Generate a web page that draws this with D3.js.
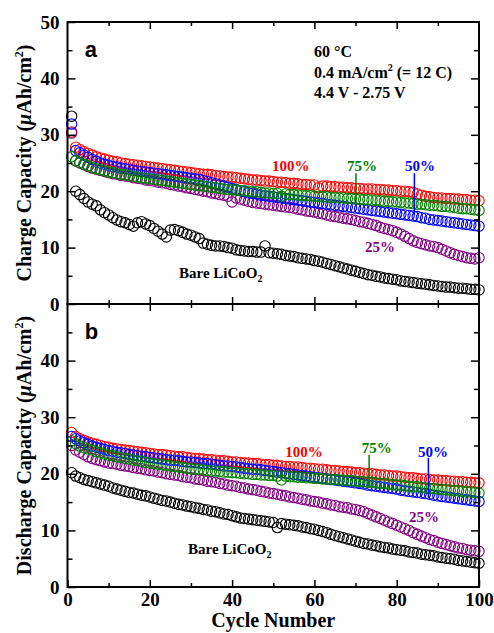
<!DOCTYPE html>
<html>
<head>
<meta charset="utf-8">
<script src="https://cdn.jsdelivr.net/npm/d3@7"></script>
<style>
body { margin: 0; background: #fff; }
text { font-family: "Liberation Serif", "Times New Roman", serif; font-weight: bold; }
</style>
</head>
<body>
<svg id="chart" width="494" height="633"></svg>
<script>
// cycle numbers 1..100
var cycles = d3.range(1, 101);

// panel a: charge capacity (uAh/cm2)
var chargeBare = [33.3,20.0,19.4,18.7,18.1,17.7,17.4,16.7,16.2,15.8,
  15.3,14.9,14.6,14.4,14.1,13.8,14.4,14.6,14.2,13.9,
  13.4,12.9,12.4,11.9,13.1,13.2,13.0,12.7,12.4,12.2,
  11.9,11.6,10.8,10.6,10.4,10.3,10.3,10.2,10.0,9.9,
  9.6,9.5,9.4,9.3,9.3,9.2,9.2,10.3,9.1,9.0,
  8.9,8.8,8.6,8.5,8.4,8.2,8.1,8.0,7.9,7.7,
  7.6,7.4,7.2,7.0,6.8,6.6,6.4,6.2,6.0,5.8,
  5.6,5.4,5.2,5.1,4.9,4.8,4.6,4.5,4.4,4.3,
  4.1,4.0,3.9,3.8,3.7,3.6,3.5,3.4,3.3,3.2,
  3.1,3.0,3.0,2.9,2.8,2.8,2.7,2.6,2.6,2.5];
var charge25 = [30.3,25.4,25.0,24.7,24.4,24.1,23.9,23.7,23.5,23.3,
  23.1,23.0,22.8,22.7,22.6,22.4,22.3,22.2,22.0,21.9,
  21.8,21.6,21.5,21.4,21.2,21.1,20.9,20.8,20.6,20.5,
  20.3,20.2,20.0,19.9,19.7,19.6,19.4,19.3,19.1,18.1,
  18.8,18.6,18.4,18.2,18.0,17.9,17.8,17.7,17.6,17.5,
  17.4,17.3,17.2,17.1,17.0,16.8,16.7,16.5,16.4,16.3,
  16.1,16.0,15.8,15.6,15.5,15.4,15.2,15.1,15.0,14.8,
  14.6,14.5,14.3,14.1,13.9,13.6,13.4,13.2,13.0,12.7,
  12.4,12.0,11.6,11.2,10.9,10.7,10.5,10.3,10.2,10.0,
  9.7,9.4,9.1,8.8,8.6,8.4,8.2,8.1,8.0,8.2];
var charge50 = [31.9,27.2,26.8,26.4,26.0,25.6,25.3,25.0,24.8,24.6,
  24.4,24.3,24.1,24.0,23.9,23.7,23.6,23.5,23.4,23.3,
  23.2,23.1,23.0,22.9,22.8,22.7,22.6,22.5,22.4,22.3,
  22.2,22.1,21.9,21.7,21.5,21.3,21.1,20.9,20.7,20.5,
  20.3,20.1,19.9,19.7,19.6,19.5,19.3,19.2,19.1,19.0,
  18.9,18.8,18.7,18.6,18.5,18.4,18.3,18.2,18.1,18.0,
  17.9,17.8,17.7,17.6,17.5,17.4,17.3,17.2,17.1,17.0,
  16.9,16.8,16.7,16.6,16.5,16.4,16.3,16.2,16.1,16.0,
  15.9,15.8,15.7,15.6,15.5,15.3,15.2,15.0,14.9,14.8,
  14.7,14.6,14.5,14.4,14.3,14.2,14.1,14.0,13.9,13.8];
var charge75 = [26.1,25.4,25.1,24.8,24.5,24.2,24.0,23.8,23.6,23.4,
  23.3,23.1,23.0,22.9,22.8,22.6,22.5,22.4,22.3,22.2,
  22.1,22.0,21.9,21.8,21.7,21.6,21.5,21.4,21.3,21.2,
  21.1,21.0,20.9,20.8,20.7,20.6,20.5,20.4,20.3,20.3,
  20.2,20.1,20.1,20.0,19.9,19.9,19.8,19.7,19.7,19.6,
  19.6,19.1,19.5,19.4,19.4,19.3,19.3,19.2,19.2,19.1,
  19.1,19.0,19.0,18.9,18.9,18.8,18.8,18.7,18.7,18.6,
  18.6,18.5,18.5,18.4,18.4,18.3,18.2,18.2,18.1,18.1,
  18.0,17.9,17.9,17.8,17.7,17.7,17.6,17.5,17.5,17.4,
  17.3,17.3,17.2,17.1,17.0,16.9,16.9,16.8,16.7,16.6];
var charge100 = [30.5,27.8,27.4,27.0,26.7,26.4,26.1,25.9,25.7,25.5,
  25.3,25.2,25.0,24.9,24.8,24.7,24.6,24.5,24.4,24.3,
  24.2,24.1,24.0,23.9,23.8,23.7,23.6,23.5,23.4,23.3,
  23.2,23.1,23.0,23.0,22.9,22.8,22.7,22.6,22.5,22.5,
  22.4,22.3,22.2,22.1,22.0,22.0,21.9,21.8,21.8,21.7,
  21.6,21.6,21.5,21.4,21.4,21.3,21.2,21.2,21.1,21.1,
  20.6,20.9,20.9,20.8,20.8,20.7,20.7,20.6,20.6,20.5,
  20.5,20.4,20.4,20.4,20.3,20.3,20.2,20.2,20.1,20.1,
  20.0,20.0,19.9,19.8,19.5,19.3,19.1,19.0,18.9,18.8,
  18.8,18.7,18.7,18.6,18.6,18.5,18.5,18.4,18.4,18.3];

// panel b: discharge capacity (uAh/cm2)
var dischargeBare = [20.2,19.6,19.3,19.0,18.8,18.6,18.4,18.2,18.0,17.8,
  17.5,17.3,17.1,16.9,16.7,16.6,16.4,16.2,16.1,15.9,
  15.7,15.5,15.3,15.2,15.0,14.8,14.6,14.5,14.3,14.2,
  14.0,13.9,13.7,13.6,13.4,13.3,13.1,12.9,12.8,12.6,
  12.4,12.2,12.1,12.0,11.9,11.8,11.7,11.6,11.5,11.4,
  10.5,11.2,11.1,11.0,10.9,10.8,10.6,10.5,10.3,10.2,
  10.0,9.8,9.6,9.3,9.1,8.9,8.7,8.5,8.3,8.1,
  7.9,7.7,7.6,7.4,7.3,7.1,7.0,6.9,6.7,6.6,
  6.5,6.4,6.2,6.1,6.0,5.8,5.7,5.6,5.5,5.3,
  5.2,5.1,5.0,4.9,4.7,4.6,4.5,4.4,4.3,4.2];
var discharge25 = [25.0,24.2,23.8,23.4,23.0,22.7,22.5,22.3,22.1,21.9,
  21.8,21.7,21.5,21.4,21.3,21.1,21.0,20.9,20.7,20.6,
  20.5,20.3,20.2,20.0,19.9,19.8,19.7,19.5,19.4,19.3,
  19.1,19.0,18.9,18.7,18.6,18.5,18.3,18.2,18.0,17.9,
  17.8,17.6,17.5,17.3,17.2,17.1,16.9,16.8,16.6,16.5,
  16.4,16.2,16.1,15.9,15.8,15.7,15.5,15.4,15.2,15.1,
  15.0,14.8,14.7,14.5,14.4,14.2,14.1,14.0,13.8,13.7,
  13.5,13.3,13.0,12.7,12.4,12.1,11.8,11.5,11.2,10.9,
  10.6,10.3,10.0,9.6,9.3,9.0,8.7,8.4,8.2,7.9,
  7.7,7.5,7.3,7.1,6.9,6.8,6.6,6.5,6.4,6.3];
var discharge50 = [26.6,26.2,25.8,25.5,25.2,24.9,24.7,24.5,24.3,24.1,
  24.0,23.8,23.7,23.6,23.4,23.3,23.2,23.1,23.0,22.9,
  22.8,22.7,22.6,22.5,22.4,22.4,22.3,22.2,22.1,22.1,
  22.0,21.9,21.8,21.8,21.7,21.6,21.5,21.4,21.4,21.3,
  21.2,21.1,21.0,20.9,20.8,20.8,20.7,20.6,20.5,20.4,
  20.3,20.2,20.1,20.0,19.9,19.8,19.7,19.6,19.5,19.4,
  19.3,19.2,19.1,19.0,18.9,18.8,18.7,18.6,18.5,18.4,
  18.3,18.2,18.0,17.9,17.8,17.7,17.6,17.5,17.4,17.3,
  17.1,17.0,16.9,16.8,16.7,16.6,16.5,16.4,16.2,16.1,
  16.0,15.9,15.8,15.7,15.6,15.5,15.4,15.3,15.2,15.1];
var discharge75 = [25.8,25.3,24.9,24.6,24.4,24.2,23.9,23.7,23.5,23.3,
  23.2,23.0,22.9,22.7,22.6,22.4,22.3,22.2,22.0,21.9,
  21.8,21.7,21.6,21.5,21.4,21.3,21.2,21.1,21.0,20.9,
  20.8,20.8,20.7,20.6,20.5,20.5,20.4,20.3,20.3,20.2,
  20.2,20.1,20.0,20.0,19.9,19.9,19.8,19.8,19.7,19.7,
  19.6,18.9,19.6,19.5,19.5,19.4,19.4,19.3,19.3,19.2,
  19.2,19.1,19.1,19.0,19.0,18.9,18.9,18.8,18.8,18.7,
  18.7,18.6,18.5,18.5,18.4,18.3,18.3,18.2,18.1,18.0,
  18.0,17.9,17.8,17.7,17.7,17.6,17.5,17.4,17.4,17.3,
  17.2,17.2,17.1,17.0,17.0,16.9,16.8,16.8,16.7,16.6];
var discharge100 = [27.3,26.6,26.2,25.9,25.6,25.4,25.2,25.0,24.8,24.7,
  24.5,24.4,24.3,24.2,24.1,24.0,23.9,23.8,23.7,23.6,
  23.5,23.4,23.4,23.3,23.2,23.1,23.0,23.0,22.9,22.8,
  22.7,22.7,22.6,22.5,22.5,22.4,22.3,22.3,22.2,22.1,
  22.1,22.0,21.9,21.9,21.8,21.8,21.7,21.6,21.6,21.5,
  21.5,21.4,21.3,21.3,21.2,21.2,21.1,21.0,21.0,20.9,
  20.8,20.8,20.7,20.6,20.6,20.5,20.4,20.4,20.3,20.2,
  20.2,20.1,20.0,20.0,19.9,19.8,19.8,19.7,19.6,19.6,
  19.5,19.4,19.3,19.3,19.2,19.1,19.1,19.0,18.9,18.9,
  18.8,18.8,18.7,18.7,18.6,18.6,18.5,18.5,18.4,18.4];

var yMajor = [0, 10, 20, 30, 40, 50];
var yMinor = [5, 15, 25, 35, 45];
var xMajor = [0, 20, 40, 60, 80, 100];
var xMinor = [10, 30, 50, 70, 90];

var colors = { bare: "#000000", p25: "#800080", p50: "#0000ff", p75: "#008000", p100: "#ff0000" };

var svg = d3.select("#chart");
var x = d3.scaleLinear().domain([0, 100]).range([67.5, 479]);

var panels = [
  {
    letter: "a", top: 22, bottom: 304, yLabels: yMajor, xLabels: false,
    title: "Charge Capacity (",
    series: [
      { key: "p100", data: charge100 },
      { key: "p25", data: charge25 },
      { key: "p50", data: charge50 },
      { key: "p75", data: charge75 },
      { key: "bare", data: chargeBare }
    ],
    labels: [
      { t: "100%", c: "p100", x: 49.7, y: 23.6 },
      { t: "75%", c: "p75", x: 67.9, y: 23.6, line: [70.1, 23.2, 17.9] },
      { t: "50%", c: "p50", x: 82.0, y: 23.6, line: [84.3, 23.2, 15.8] },
      { t: "25%", c: "p25", x: 72.3, y: 9.3 }
    ],
    bare: { x: 27.1, y: 4.6 }
  },
  {
    letter: "b", top: 304, bottom: 587, yLabels: [0, 10, 20, 30, 40], xLabels: true,
    title: "Discharge Capacity (",
    series: [
      { key: "p100", data: discharge100 },
      { key: "p25", data: discharge25 },
      { key: "p50", data: discharge50 },
      { key: "p75", data: discharge75 },
      { key: "bare", data: dischargeBare }
    ],
    labels: [
      { t: "100%", c: "p100", x: 52.9, y: 22.9 },
      { t: "75%", c: "p75", x: 71.5, y: 23.7, line: [73.3, 23.3, 17.5] },
      { t: "50%", c: "p50", x: 85.2, y: 22.9, line: [87.7, 22.8, 15.9] },
      { t: "25%", c: "p25", x: 83.0, y: 11.4 }
    ],
    bare: { x: 29.3, y: 5.8 }
  }
];

panels.forEach(function (p) {
  var y = d3.scaleLinear().domain([0, 50]).range([p.bottom, p.top]);
  var g = svg.append("g");

  // data first so the frame sits on top
  p.series.forEach(function (s) {
    g.append("g").selectAll("circle")
      .data(s.data)
      .enter().append("circle")
      .attr("cx", function (d, i) { return x(cycles[i]); })
      .attr("cy", function (d) { return y(d); })
      .attr("r", 5.2)
      .style("fill", "none")
      .style("stroke", colors[s.key])
      .style("stroke-width", 1.1);
  });

  // axes, ticks inward
  function styleAxis(sel) {
    sel.select(".domain").remove();
    sel.selectAll(".tick line").style("stroke", "#000").style("stroke-width", 1.5);
    sel.selectAll(".tick text")
      .style("font-family", "'Liberation Serif', serif")
      .style("font-weight", "bold")
      .style("font-size", "19px")
      .style("fill", "#000");
  }
  g.append("g").attr("transform", "translate(" + x(0) + ",0)")
    .call(d3.axisLeft(y).tickValues(p.yLabels).tickSize(-8).tickPadding(8).tickFormat(d3.format("d")))
    .call(styleAxis);
  g.append("g").attr("transform", "translate(" + x(0) + ",0)")
    .call(d3.axisLeft(y).tickValues(yMinor).tickSize(-5).tickFormat(""))
    .call(styleAxis);
  g.append("g").attr("transform", "translate(" + x(100) + ",0)")
    .call(d3.axisRight(y).tickValues(yMajor.slice(1, 5)).tickSize(-8).tickFormat(""))
    .call(styleAxis);
  g.append("g").attr("transform", "translate(" + x(100) + ",0)")
    .call(d3.axisRight(y).tickValues(yMinor).tickSize(-5).tickFormat(""))
    .call(styleAxis);
  g.append("g").attr("transform", "translate(0," + p.top + ")")
    .call(d3.axisTop(x).tickValues(xMajor.slice(1, 5)).tickSize(-7).tickFormat(""))
    .call(styleAxis);
  g.append("g").attr("transform", "translate(0," + p.top + ")")
    .call(d3.axisTop(x).tickValues(xMinor).tickSize(-4).tickFormat(""))
    .call(styleAxis);
  g.append("g").attr("transform", "translate(0," + p.bottom + ")")
    .call(d3.axisBottom(x).tickValues(p.xLabels ? xMajor : xMajor.slice(1, 5)).tickSize(-7).tickPadding(6)
      .tickFormat(p.xLabels ? d3.format("d") : ""))
    .call(styleAxis);
  g.append("g").attr("transform", "translate(0," + p.bottom + ")")
    .call(d3.axisBottom(x).tickValues(xMinor).tickSize(-4).tickFormat(""))
    .call(styleAxis);

  g.append("rect")
    .attr("x", x(0)).attr("y", p.top)
    .attr("width", x(100) - x(0)).attr("height", p.bottom - p.top)
    .style("fill", "none").style("stroke", "#000").style("stroke-width", 2);

  // panel letter
  g.append("text")
    .attr("x", x(4.2)).attr("y", p.top + 35)
    .style("font-family", "'Liberation Sans', Arial, sans-serif")
    .style("font-size", "22px")
    .text(p.letter);

  // y axis title
  var yt = g.append("text")
    .attr("transform", "translate(31," + ((p.top + p.bottom) / 2) + ") rotate(-90)")
    .attr("text-anchor", "middle")
    .style("font-size", "20px");
  yt.append("tspan").text(p.title);
  yt.append("tspan").style("font-style", "italic").text("\u03bc");
  yt.append("tspan").text("Ah/cm");
  yt.append("tspan").attr("dy", -8).style("font-size", "12px").text("2");
  yt.append("tspan").attr("dy", 8).text(")");

  // series labels
  p.labels.forEach(function (l) {
    g.append("text")
      .attr("x", x(l.x)).attr("y", y(l.y))
      .style("font-size", "15px")
      .style("fill", colors[l.c])
      .text(l.t);
    if (l.line) {
      g.append("line")
        .attr("x1", x(l.line[0])).attr("x2", x(l.line[0]))
        .attr("y1", y(l.line[1])).attr("y2", y(l.line[2]))
        .style("stroke", colors[l.c]).style("stroke-width", 1.5);
    }
  });

  var bt = g.append("text")
    .attr("x", x(p.bare.x)).attr("y", y(p.bare.y))
    .style("font-size", "15px");
  bt.append("tspan").text("Bare LiCoO");
  bt.append("tspan").attr("dy", 4).style("font-size", "10px").text("2");
});

// condition text in panel a
var cond = svg.append("text").style("font-size", "16px");
cond.append("tspan").attr("x", 314).attr("y", 57).text("60 \u00b0C");
cond.append("tspan").attr("x", 314).attr("y", 78).text("0.4 mA/cm");
cond.append("tspan").attr("dy", -7).style("font-size", "10px").text("2");
cond.append("tspan").attr("dy", 7).text(" (= 12 C)");
cond.append("tspan").attr("x", 314).attr("y", 98).text("4.4 V - 2.75 V");

// x axis title
svg.append("text")
  .attr("x", (x(0) + x(100)) / 2).attr("y", 627)
  .attr("text-anchor", "middle")
  .style("font-size", "20px")
  .text("Cycle Number");
</script>
</body>
</html>
